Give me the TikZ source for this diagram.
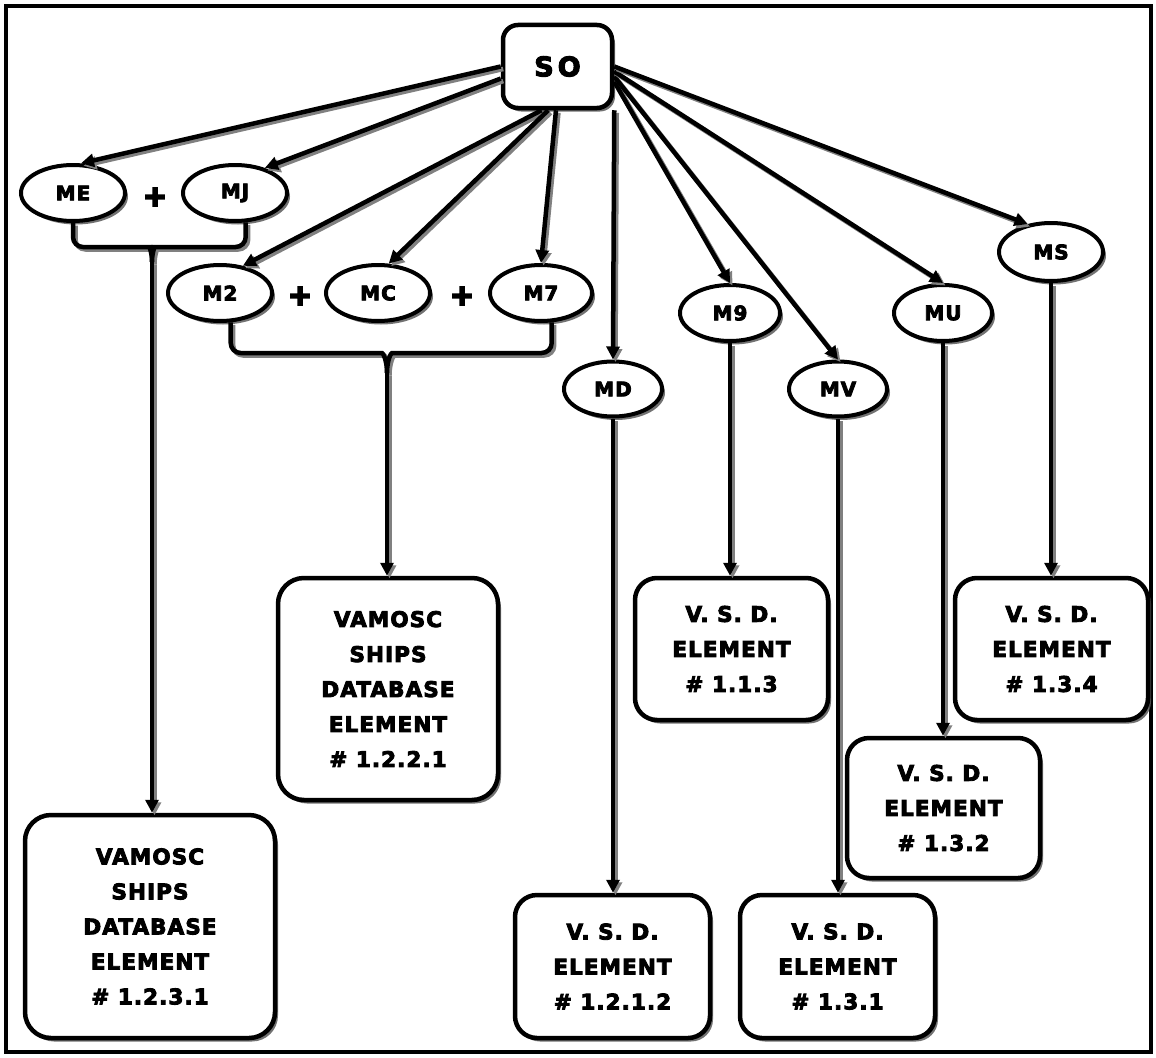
\documentclass[tikz,border=0pt]{standalone}
\usepackage{fontspec}
\setmainfont{DejaVu Sans}[LetterSpace=5,FakeBold=4]
\usetikzlibrary{shapes.geometric,shadows,arrows.meta,calc}
\tikzset{
  shad/.style={drop shadow={shadow xshift=3pt,shadow yshift=-3.5pt,fill=black!65,opacity=0.85}},
  ell/.style={ellipse,draw,line width=4pt,fill=white,minimum width=104pt,minimum height=56pt,inner sep=0pt,
    font=\bfseries\fontsize{20}{20}\selectfont,shad},
  box/.style={rectangle,rounded corners=22pt,draw,line width=4.5pt,fill=white,align=center,inner sep=0pt,
    font=\bfseries\fontsize{21.5}{35}\selectfont,shad},
  plus/.style={font=\bfseries\fontsize{28}{28}\selectfont\addfontfeature{FakeBold=8},inner sep=0pt},
  conn/.style={line width=4.5pt,preaction={draw=black!50,line width=4.5pt,transform canvas={shift={(2.5pt,-2.5pt)}}}},
  arr/.style={conn,-{Triangle[length=13pt,width=13pt]}},
}
\begin{document}
\begin{tikzpicture}[x=1pt,y=-1pt]
\useasboundingbox (0,0) rectangle (1156,1057);
\draw[line width=4.5pt] (6,6) rectangle (1151,1052);

% top node
\node[rectangle,rounded corners=15pt,draw,line width=4.5pt,fill=white,minimum width=109pt,minimum height=83pt,
  font=\bfseries\fontsize{27}{27}\selectfont\addfontfeature{LetterSpace=15},shad] (SO) at (557.5,66.5) {SO};

% ellipses
\node[ell] (ME) at (73,193) {ME};
\node[ell] (MJ) at (235,193) {MJ};
\node[plus] (P1) at (155,197) {+};
\node[ell] (M2) at (220,293) {M2};
\node[ell] (MC) at (378,293) {MC};
\node[ell,minimum width=102pt] (M7) at (541,293) {M7};
\node[plus] (P2) at (300,296) {+};
\node[plus] (P3) at (462,296) {+};
\node[ell,minimum width=98pt,minimum height=55pt] (MD) at (613,389) {MD};
\node[ell,minimum width=100pt,minimum height=56pt] (M9) at (730,313) {M9};
\node[ell,minimum width=98pt,minimum height=55pt] (MV) at (838,389) {MV};
\node[ell,minimum width=98pt,minimum height=56pt] (MU) at (943,313) {MU};
\node[ell,minimum width=104pt,minimum height=58pt] (MS) at (1051,252) {MS};

% boxes
\node[box,rounded corners=26pt,minimum width=250pt,minimum height=223pt] (B1231) at (150,926.5)
  {VAMOSC\\SHIPS\\DATABASE\\ELEMENT\\\# 1.2.3.1};
\node[box,rounded corners=26pt,minimum width=220pt,minimum height=222pt] (B1221) at (388,689)
  {VAMOSC\\SHIPS\\DATABASE\\ELEMENT\\\# 1.2.2.1};
\node[box,minimum width=195pt,minimum height=143pt] (B1212) at (612.5,966.5) {V. S. D.\\ELEMENT\\\# 1.2.1.2};
\node[box,minimum width=195pt,minimum height=143pt] (B131) at (837.5,966.5) {V. S. D.\\ELEMENT\\\# 1.3.1};
\node[box,minimum width=193pt,minimum height=142pt] (B113) at (731.5,649) {V. S. D.\\ELEMENT\\\# 1.1.3};
\node[box,minimum width=193pt,minimum height=140pt] (B132) at (943.5,808) {V. S. D.\\ELEMENT\\\# 1.3.2};
\node[box,minimum width=193pt,minimum height=142pt] (B134) at (1051.5,649) {V. S. D.\\ELEMENT\\\# 1.3.4};

% arrows from SO
\draw[arr] (SO.west) -- (ME.75);
\draw[arr] (SO.192) -- (MJ.40);
\draw[arr] (SO.250) -- (M2.50);
\draw[arr] (SO.258) -- (MC.70);
\draw[arr] (SO.268) -- (M7.north);
\draw[arr] (SO.south east) -- (MD.north);
\draw[arr] (SO.345) -- (M9.north);
\draw[arr] (SO.350) -- (MV.north);
\draw[arr] (SO.355) -- (MU.north);
\draw[arr] (SO.east) -- (MS.130);

% brackets
\coordinate (J1) at (152,262);
\coordinate (J2) at (387,373);
\draw[conn,rounded corners=10pt] (ME.south) |- (140,247) .. controls (149,247) and (152,252) .. (J1);
\draw[conn,rounded corners=10pt] (MJ.290) |- (164,247) .. controls (155,247) and (152,252) .. (J1);
\draw[conn,rounded corners=10pt] (M2.290) |- (372,353) .. controls (383,353) and (387,360) .. (J2);
\draw[conn,rounded corners=10pt] (M7.290) |- (402,353) .. controls (391,353) and (387,360) .. (J2);
\draw[arr] (J1) -- (J1 |- B1231.north);
\draw[arr] (J2) -- (J2 |- B1221.north);

% vertical arrows
\draw[arr] (MD.south) -- (MD.south |- B1212.north);
\draw[arr] (M9.south) -- (M9.south |- B113.north);
\draw[arr] (MV.south) -- (MV.south |- B131.north);
\draw[arr] (MU.south) -- (MU.south |- B132.north);
\draw[arr] (MS.south) -- (MS.south |- B134.north);
\end{tikzpicture}
\end{document}
